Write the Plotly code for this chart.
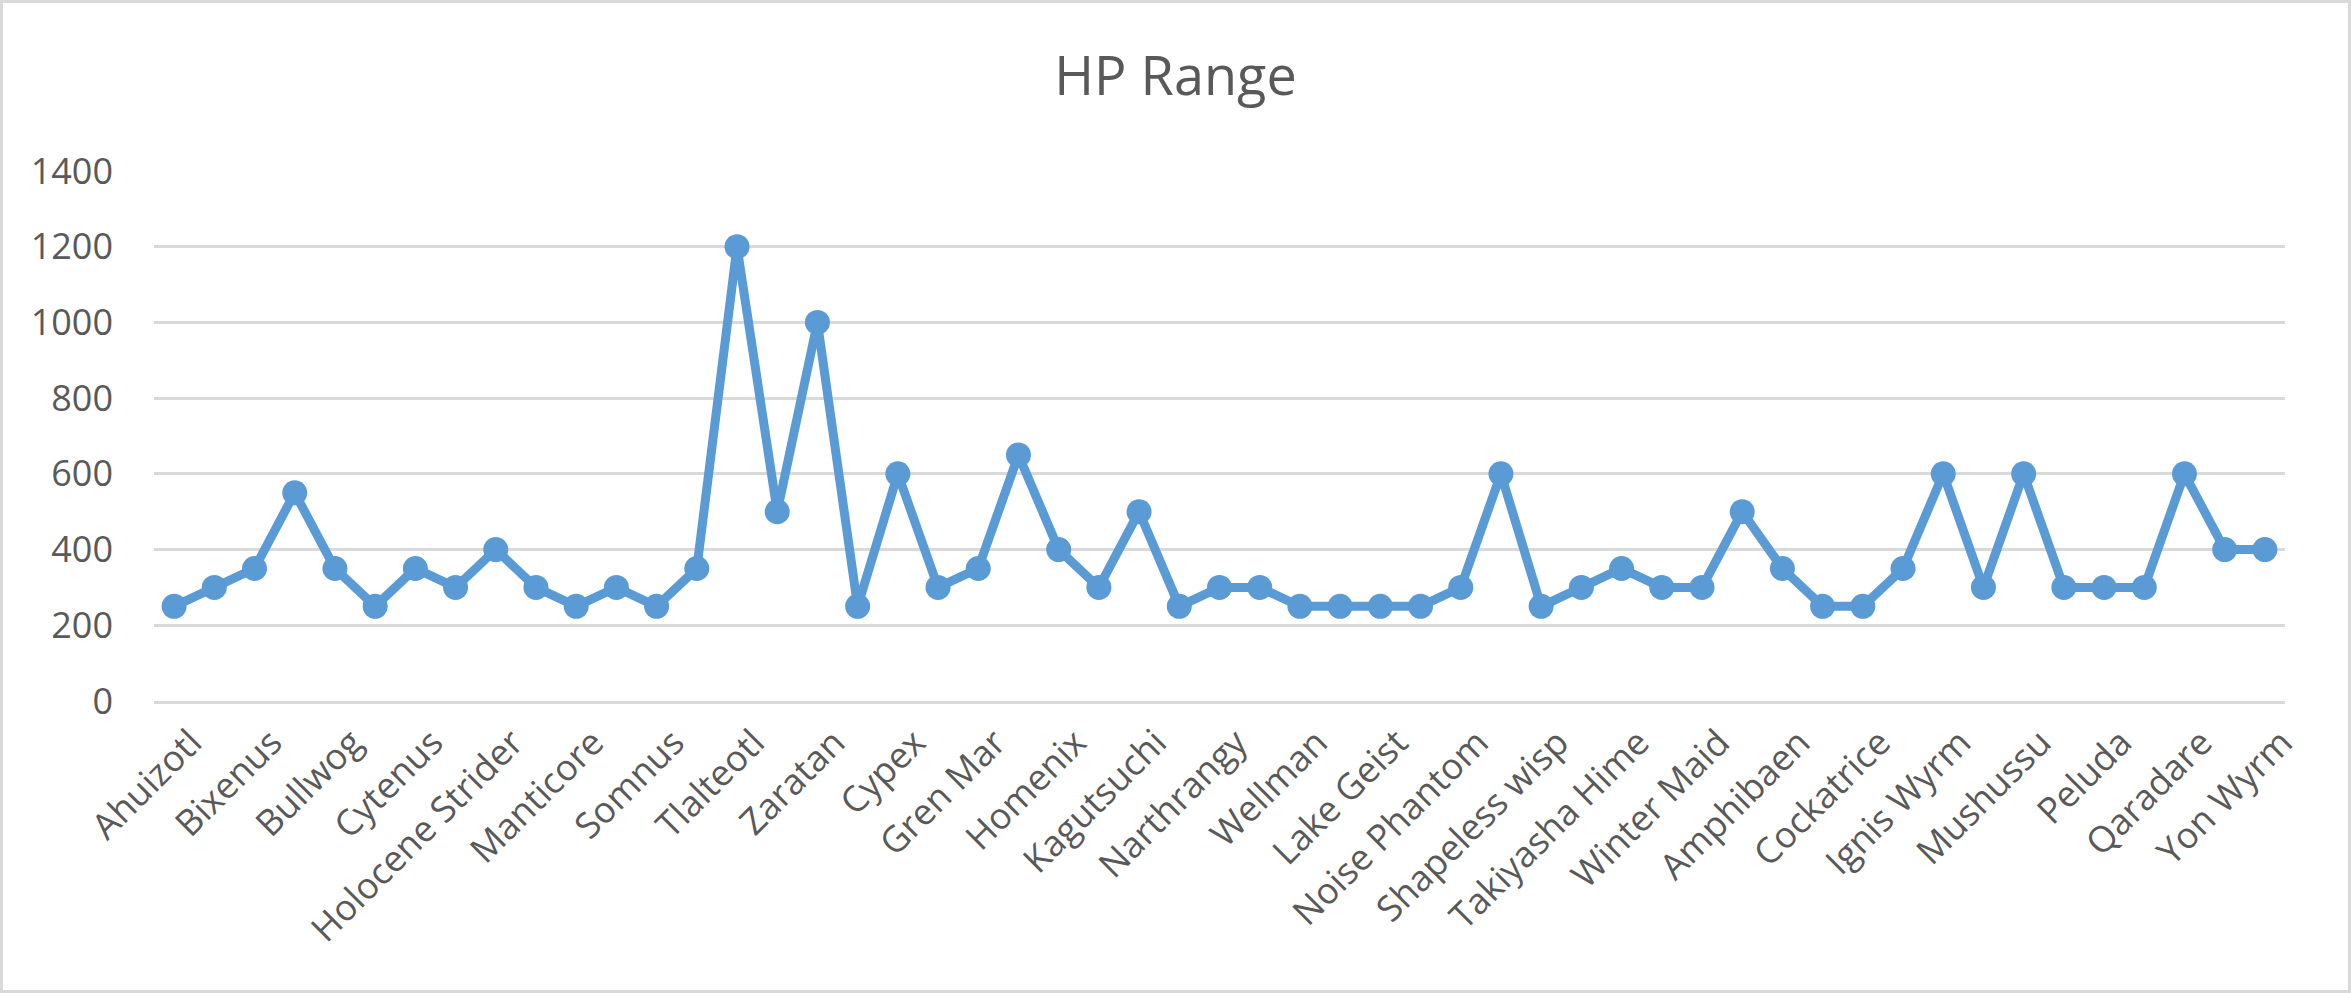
import plotly.graph_objects as go

title = "HP Range"
tick_labels = ["Ahuizotl", "Bixenus", "Bullwog", "Cytenus", "Holocene Strider", "Manticore",
               "Somnus", "Tlalteotl", "Zaratan", "Cypex", "Gren Mar", "Homenix", "Kagutsuchi",
               "Narthrangy", "Wellman", "Lake Geist", "Noise Phantom", "Shapeless wisp",
               "Takiyasha Hime", "Winter Maid", "Amphibaen", "Cockatrice", "Ignis Wyrm",
               "Mushussu", "Peluda", "Qaradare", "Yon Wyrm"]
hp_values = [250, 300, 350, 550, 350, 250, 350, 300, 400, 300, 250, 300, 250, 350, 1200,
             500, 1000, 250, 600, 300, 350, 650, 400, 300, 500, 250, 300, 300, 250, 250,
             250, 250, 300, 600, 250, 300, 350, 300, 300, 500, 350, 250, 250, 350, 600,
             300, 600, 300, 300, 300, 600, 400, 400]
x_index = list(range(len(hp_values)))
tick_positions = x_index[::2]
y_ticks = [0, 200, 400, 600, 800, 1000, 1200, 1400]

W, H = 2351, 993
L, R, T, B = 154, 66, 171, 292

fig = go.Figure()
fig.add_trace(go.Scatter(
    x=x_index, y=hp_values, mode="lines+markers",
    line=dict(color="#5B9BD5", width=9),
    marker=dict(color="#5B9BD5", size=25),
    cliponaxis=False, showlegend=False,
))

pw, ph = W - L - R, H - T - B
fig.add_shape(type="rect", xref="paper", yref="paper",
              x0=(1.5 - L) / pw, x1=(W - 1.5 - L) / pw,
              y0=(H - B - (H - 1.5)) / ph, y1=(H - B - 1.5) / ph,
              line=dict(color="#D9D9D9", width=3), fillcolor="rgba(0,0,0,0)", layer="below")

fig.update_layout(
    width=W, height=H,
    margin=dict(l=L, r=R, t=T, b=B, autoexpand=False),
    paper_bgcolor="white", plot_bgcolor="white",
    font=dict(family="Open Sans", color="#595959"),
    title=dict(text=title, x=0.5, xanchor="center", xref="container",
               y=1 - 76 / H, yanchor="middle",
               font=dict(size=54, color="#595959", family="Open Sans")),
    xaxis=dict(range=[-0.5, len(hp_values) - 0.5], tickmode="array",
               tickvals=tick_positions, ticktext=tick_labels, tickangle=-45,
               tickfont=dict(size=36, color="#595959"), showgrid=False,
               showline=True, linecolor="#D9D9D9", linewidth=3, ticks="",
               zeroline=False, ticklabelstandoff=3, ticklabelshift=17),
    yaxis=dict(range=[0, 1400], tickmode="array", tickvals=y_ticks,
               tickfont=dict(size=36, color="#595959"), showgrid=True,
               gridcolor="#D9D9D9", gridwidth=3, zeroline=False, showline=False,
               ticks="", ticklabelstandoff=40),
)

fig.write_html("out.html", config={"displayModeBar": False},
               post_script="document.body.style.margin='0';")
